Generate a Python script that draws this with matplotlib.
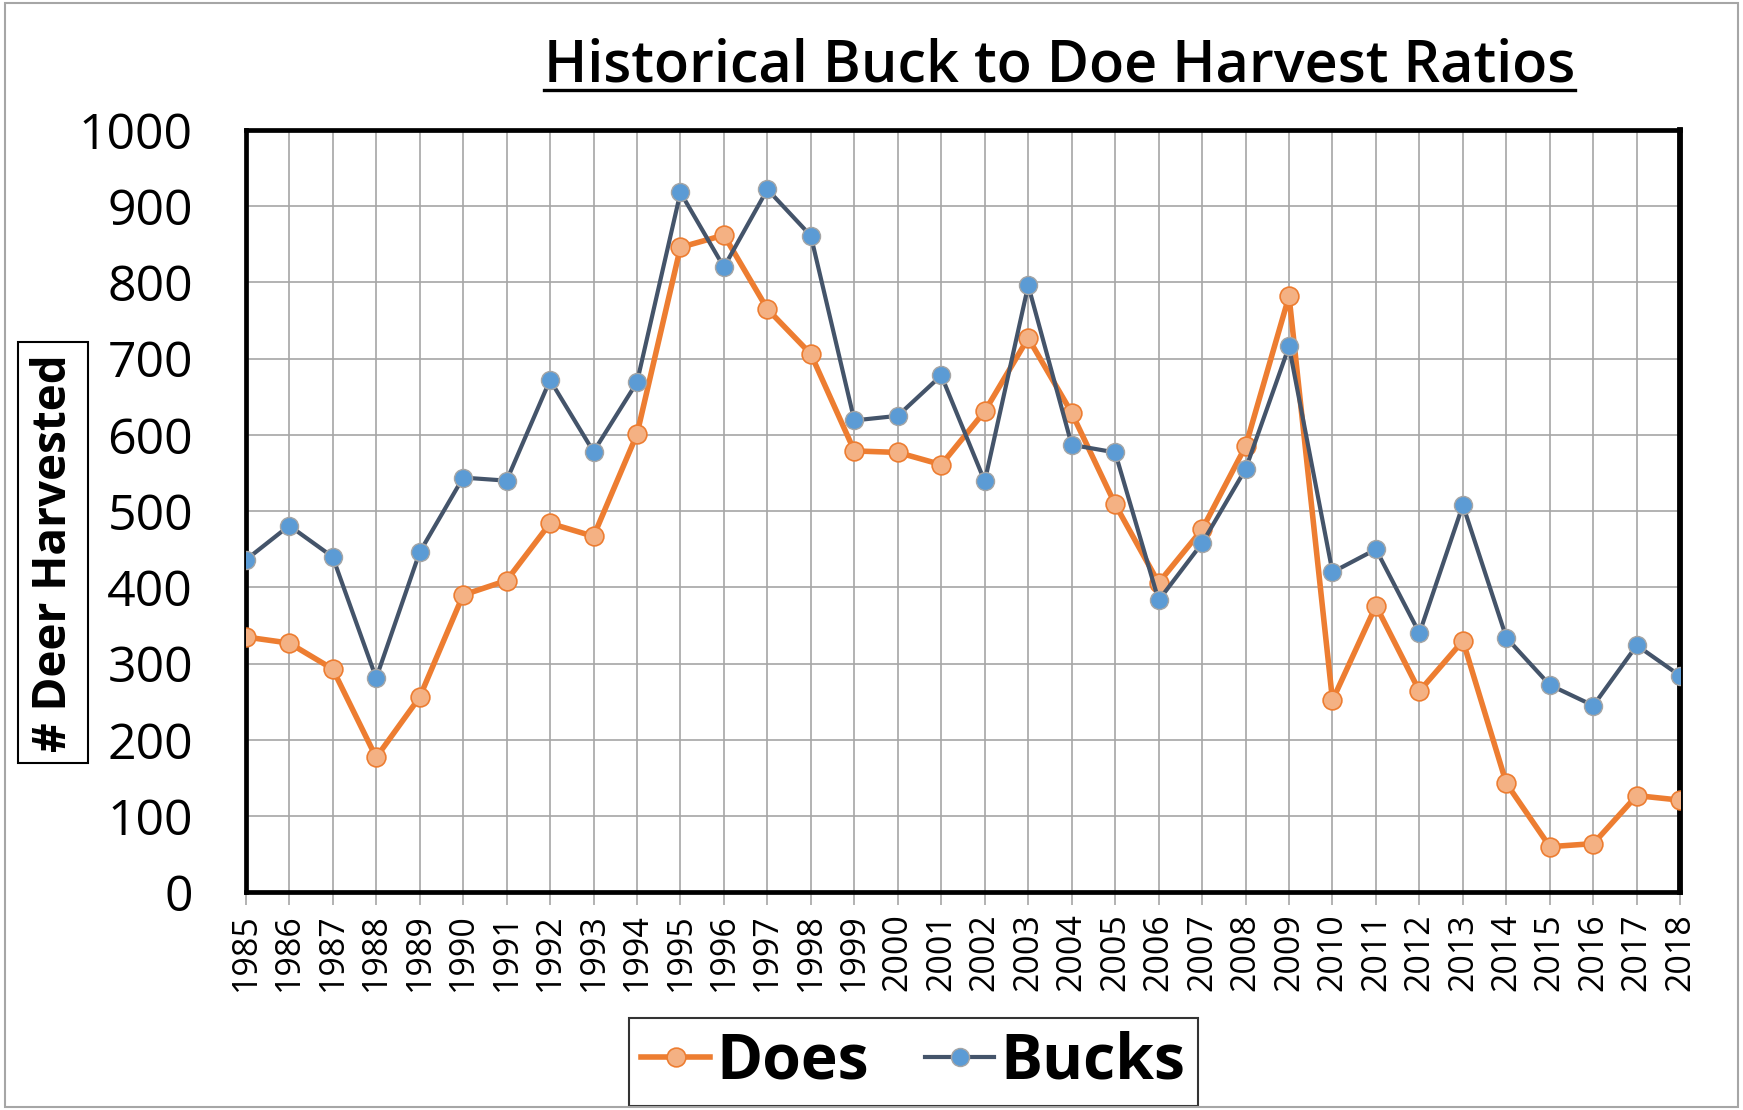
import matplotlib
matplotlib.use('Agg')
import matplotlib.pyplot as plt
from matplotlib.lines import Line2D
from matplotlib.patches import Rectangle
import numpy as np

years = list(range(1985, 2019))
does = [335, 327, 293, 177, 256, 390, 409, 484, 467, 601, 846, 862, 765, 706,
        579, 577, 561, 631, 727, 629, 509, 406, 476, 585, 782,
        252, 376, 264, 330, 143, 60, 64, 127, 121]
bucks = [436, 481, 440, 281, 446, 544, 540, 672, 578, 669, 918, 820, 922, 861,
         619, 625, 678, 539, 796, 587, 577, 383, 458, 555, 716,
         420, 450, 340, 508, 334, 272, 245, 324, 284]
y_ticks = list(range(0, 1001, 100))

plt.rcParams['font.family'] = ['Open Sans', 'DejaVu Sans']

fig = plt.figure(figsize=(17.43, 11.10), dpi=100)
ax = fig.add_axes([0.141, 0.196, 0.823, 0.687])

x = np.arange(len(years))
ax.plot(x, does, color='#ED7D31', lw=4.0, marker='o', ms=13.5,
        mfc='#F4B183', mec='#ED7D31', mew=1.2, label='Does', zorder=3)
ax.plot(x, bucks, color='#44546A', lw=3.0, marker='o', ms=13,
        mfc='#5B9BD5', mec='#A5A5A5', mew=1.0, label='Bucks', zorder=4)

ax.set_xlim(0, len(years) - 1)
ax.set_ylim(0, 1000)
ax.set_xticks(x)
ax.set_xticklabels([str(y) for y in years], rotation=90, fontsize=24.5)
ax.set_yticks(y_ticks)
ax.set_yticklabels([str(v) for v in y_ticks], fontsize=36)
ax.tick_params(axis='y', length=0, pad=38)
ax.tick_params(axis='x', length=9, width=1.2, color='#A6A6A6', pad=6)

ax.grid(True, color='#A6A6A6', lw=1.2)
ax.set_axisbelow(True)
for s in ax.spines.values():
    s.set_linewidth(3.4)
    s.set_color('black')
ax.spines['right'].set_linewidth(4.2)

# y label in a box
fig.text(0.0305, 0.502, '# Deer Harvested', rotation=90, fontsize=33,
         fontweight='bold', ha='center', va='center',
         bbox=dict(boxstyle='square,pad=0.25', fc='white', ec='black', lw=1.5))

# underlined title
title = fig.text(0.608, 0.927, 'Historical Buck to Doe Harvest Ratios',
                 fontsize=41.5, fontweight='semibold', ha='center', va='baseline')
fig.canvas.draw()
bb = title.get_window_extent().transformed(fig.transFigure.inverted())
fig.add_artist(Line2D([bb.x0, bb.x1], [0.919, 0.919], color='black', lw=2.4,
                      transform=fig.transFigure))

leg = ax.legend(loc='center', bbox_to_anchor=(0.524, 0.043),
                bbox_transform=fig.transFigure, ncol=2,
                prop={'weight': 'bold', 'size': 45},
                frameon=True, fancybox=False, edgecolor='black',
                handlelength=1.1, handletextpad=0.1, columnspacing=0.9,
                borderpad=0.2, borderaxespad=0)
leg.get_frame().set_linewidth(1.5)

# outer border
fig.add_artist(Rectangle((0.003, 0.003), 0.994, 0.994, fill=False,
                         ec='#A6A6A6', lw=1.5, transform=fig.transFigure))

fig.savefig('out.png', dpi=100)
